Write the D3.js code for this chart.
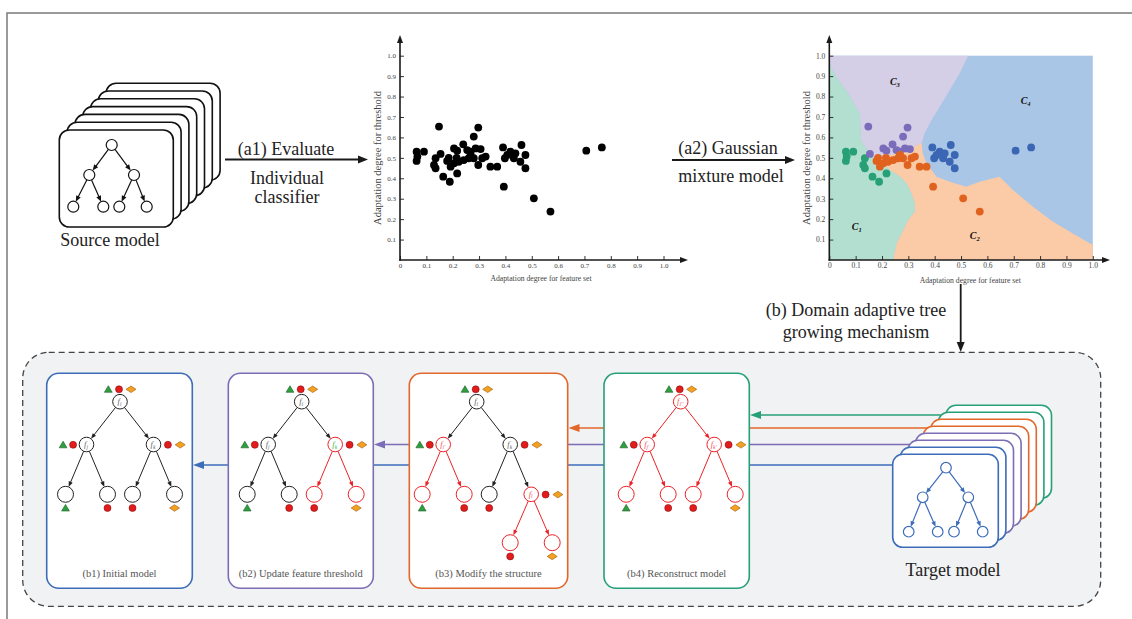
<!DOCTYPE html>
<html lang="en">
<head>
<meta charset="UTF-8">
<title>Domain adaptive tree growing</title>
<script src="https://d3js.org/d3.v7.min.js"></script>
<style>
  body { margin: 0; background: #fff; }
  svg { display: block; }
  svg text { font-family: "Liberation Serif", "Times New Roman", Times, "DejaVu Serif", serif; }
</style>
</head>
<body>
<svg id="fig" width="1132" height="619" font-family="Liberation Serif, Times New Roman, serif"></svg>
<script>
// ---- data ----
const xTicks = [0, 0.1, 0.2, 0.3, 0.4, 0.5, 0.6, 0.7, 0.8, 0.9, 1.0];
const yTicks = [0.1, 0.2, 0.3, 0.4, 0.5, 0.6, 0.7, 0.8, 0.9, 1.0];

// clusters found by the gaussian mixture (x = feature set, y = threshold)
const c1Points = [[0.063,0.53],[0.063,0.485],[0.091,0.53],[0.066,0.506],[0.129,0.465],[0.135,0.449],
  [0.135,0.498],[0.164,0.408],[0.189,0.383],[0.217,0.424]];
const c2Points = [[0.179,0.485],[0.192,0.457],[0.205,0.473],[0.223,0.481],[0.242,0.489],[0.261,0.498],
  [0.28,0.498],[0.297,0.465],[0.312,0.498],[0.325,0.506],[0.343,0.457],[0.369,0.457],[0.394,0.359],
  [0.508,0.302],[0.571,0.237],[0.268,0.514],[0.215,0.5],[0.185,0.5]];
const c3Points = [[0.148,0.653],[0.297,0.648],[0.28,0.604],[0.154,0.519],[0.205,0.546],[0.24,0.566],
  [0.217,0.535],[0.255,0.538],[0.287,0.546],[0.306,0.543],[0.268,0.53]];
const c4Points = [[0.391,0.551],[0.398,0.498],[0.419,0.53],[0.432,0.498],[0.438,0.522],[0.461,0.563],
  [0.457,0.481],[0.476,0.514],[0.476,0.449],[0.407,0.514],[0.707,0.535],[0.766,0.551]];
const clusterNames = ["1", "2", "3", "4"];
const clusterLabelPos = [[0.104,0.163],[0.552,0.119],[0.249,0.873],[0.745,0.778]];

// decision region borders
const edgeGreenLav = [[0,0.962],[0.034,0.881],[0.072,0.816],[0.104,0.742],[0.116,0.718],[0.12,0.587],
  [0.135,0.555],[0.154,0.522],[0.175,0.5]];
const edgeLavBlue = [[0.527,1],[0.495,0.914],[0.457,0.832],[0.419,0.75],[0.388,0.685],[0.362,0.62],
  [0.354,0.587],[0.35,0.575]];
const edgeLavOrange = [[0.35,0.575],[0.33,0.56],[0.3,0.54],[0.25,0.52],[0.175,0.5]];
const edgeOrangeBlue = [[0.35,0.575],[0.355,0.52],[0.369,0.473],[0.407,0.408],[0.457,0.383],[0.52,0.359],
  [0.571,0.383],[0.646,0.408],[0.697,0.343],[0.773,0.261],[0.848,0.188],[0.924,0.13],[1,0.073]];
const edgeOrangeGreen = [[0.175,0.5],[0.192,0.481],[0.23,0.44],[0.268,0.408],[0.293,0.375],[0.312,0.326],
  [0.324,0.277],[0.324,0.237],[0.299,0.196],[0.274,0.13],[0.255,0.082],[0.242,0]];

const panelTitles = ["(b1) Initial model", "(b2) Update feature threshold", "(b3) Modify the structure", "(b4) Reconstruct model"];

// ---- colours ----
const cBlue = "#3d6cb9", cPurple = "#7c6db6", cOrange = "#e2672a", cGreen = "#27a077", cRed = "#ec2227";
const dotColors = ["#26a074", "#e0621f", "#7a6cba", "#3a66b3"];
const regionColors = { green: "#b3dfd1", orange: "#fbcaa6", lav: "#d4cfe6", blue: "#aac6e6" };

const svg = d3.select("#fig");

function arrow(g, x1, y1, x2, y2, color, w, hl, hw) {
  const a = Math.atan2(y2 - y1, x2 - x1);
  const bx = x2 - hl * Math.cos(a), by = y2 - hl * Math.sin(a);
  g.append("line").attr("x1", x1).attr("y1", y1).attr("x2", bx + Math.cos(a)).attr("y2", by + Math.sin(a))
    .attr("stroke", color).attr("stroke-width", w);
  const px = -Math.sin(a) * hw / 2, py = Math.cos(a) * hw / 2;
  g.append("path").attr("d", `M${x2},${y2}L${bx + px},${by + py}L${bx - px},${by - py}Z`).attr("fill", color);
}

// outer frame
svg.append("path").attr("d", "M7,619V13H1132").attr("fill", "none").attr("stroke", "#7a7a7a").attr("stroke-width", 1.5);

// ---- scatter plots ----
function scatter(ox, xEnd, coloured) {
  const x = d3.scaleLinear().domain([0, 1]).range([ox, ox + 263.5]);
  const y = d3.scaleLinear().domain([0, 1]).range([260, 55.7]);
  const g = svg.append("g");

  if (coloured) {
    const line = d3.line().x(d => x(d[0])).y(d => y(d[1]));
    const rev = a => a.slice().reverse();
    g.append("rect").attr("x", x(0)).attr("y", y(1)).attr("width", x(1) - x(0)).attr("height", y(0) - y(1))
      .attr("fill", regionColors.blue);
    g.append("path").attr("fill", regionColors.orange)
      .attr("d", line([[0.242,0],[1,0],[1,0.073], ...rev(edgeOrangeBlue), ...edgeLavOrange, ...edgeOrangeGreen]) + "Z");
    g.append("path").attr("fill", regionColors.lav)
      .attr("d", line([[0,1], ...edgeLavBlue, ...edgeLavOrange, ...rev(edgeGreenLav)]) + "Z");
    g.append("path").attr("fill", regionColors.green)
      .attr("d", line([[0,0], ...edgeGreenLav, ...edgeOrangeGreen]) + "Z");

    clusterNames.forEach((n, i) => {
      const t = g.append("text").attr("x", x(clusterLabelPos[i][0])).attr("y", y(clusterLabelPos[i][1]) + 3)
        .attr("text-anchor", "middle").attr("font-size", 10).attr("font-weight", "bold").attr("font-style", "italic")
        .attr("fill", "#111");
      t.append("tspan").text("C");
      t.append("tspan").attr("dy", 2).attr("font-size", 6.5).text(n);
    });
  }

  const sets = [c1Points, c3Points, c4Points, c2Points];
  const setColor = [dotColors[0], dotColors[2], dotColors[3], dotColors[1]];
  sets.forEach((pts, i) => {
    g.selectAll(null).data(pts).join("circle")
      .attr("cx", d => x(d[0])).attr("cy", d => y(d[1])).attr("r", 3.9)
      .attr("fill", coloured ? setColor[i] : "#000");
  });

  const fs = coloured ? 7.5 : 7;
  const ya = g.append("g").attr("transform", `translate(${ox},0)`)
    .call(d3.axisLeft(y).tickValues(yTicks).tickSize(-4).tickPadding(4).tickFormat(d3.format(".1f")));
  const xa = g.append("g").attr("transform", "translate(0,260)")
    .call(d3.axisBottom(x).tickValues(xTicks).tickSize(-4).tickPadding(3).tickFormat(d => d === 0 ? "0" : d3.format(".1f")(d)));
  [ya, xa].forEach(a => {
    a.select(".domain").remove();
    a.attr("font-family", null).attr("font-size", null);
    a.selectAll("line").attr("stroke", "#333");
    a.selectAll("text").attr("font-size", fs).attr("fill", "#444");
  });

  arrow(g, ox, 260.7, ox, 35, "#1a1a1a", 1.6, 8, 6);
  arrow(g, ox - 0.8, 260, xEnd, 260, "#1a1a1a", 1.6, 8, 6);

  g.append("text").attr("transform", `translate(${ox - 19},158) rotate(-90)`).attr("text-anchor", "middle")
    .attr("font-size", 10.5).attr("fill", "#444").text("Adaptation degree for threshold");
  g.append("text").attr("x", ox + 141).attr("y", coloured ? 282.5 : 280.5).attr("text-anchor", "middle")
    .attr("font-size", 7.7).attr("fill", "#444").text("Adaptation degree for feature set");
}
scatter(400, 688, false);
scatter(829.3, 1110, true);

// ---- generic small tree ----
function simpleTree(g, nodes, edges, r, color, hl, hw, sw) {
  edges.forEach(([a, b]) => {
    const p = nodes[a], q = nodes[b];
    const ang = Math.atan2(q[1] - p[1], q[0] - p[0]);
    arrow(g, p[0] + r * Math.cos(ang), p[1] + r * Math.sin(ang),
      q[0] - r * Math.cos(ang), q[1] - r * Math.sin(ang), color, sw, hl, hw);
  });
  Object.values(nodes).forEach(p => {
    g.append("circle").attr("cx", p[0]).attr("cy", p[1]).attr("r", r)
      .attr("fill", "#fff").attr("stroke", color).attr("stroke-width", sw);
  });
}
const treeEdges = [["root","L"],["root","R"],["L","LL"],["L","LR"],["R","RL"],["R","RR"]];

// ---- source model stack ----
const src = svg.append("g");
for (let k = 6; k >= 0; k--) {
  src.append("rect").attr("x", 59.3 + 7.8 * k).attr("y", 130 - 7.8 * k).attr("width", 114).attr("height", 97)
    .attr("rx", 10).attr("fill", "#fff").attr("stroke", "#111").attr("stroke-width", 1.6);
}
simpleTree(src, {
  root: [111.7, 145], L: [89.3, 175], R: [134, 175],
  LL: [73.3, 206.7], LR: [103.3, 206.7], RL: [119.3, 206.7], RR: [146.7, 206.7]
}, treeEdges, 5.5, "#111", 6, 5, 1.2);
src.append("text").attr("x", 110).attr("y", 246).attr("text-anchor", "middle").attr("font-size", 18)
  .attr("fill", "#222").text("Source model");

// ---- step arrows at the top ----
const steps = svg.append("g").attr("font-size", 18).attr("fill", "#222").attr("text-anchor", "middle");
arrow(steps, 225, 159.5, 368, 159.5, "#1a1a1a", 1.8, 10, 8);
steps.append("text").attr("x", 286).attr("y", 155).text("(a1) Evaluate");
steps.append("text").attr("x", 287).attr("y", 184).text("Individual");
steps.append("text").attr("x", 287).attr("y", 203).text("classifier");
arrow(steps, 672, 160, 795, 160, "#1a1a1a", 1.8, 10, 8);
steps.append("text").attr("x", 728).attr("y", 154).text("(a2) Gaussian");
steps.append("text").attr("x", 731).attr("y", 182).text("mixture model");
arrow(steps, 960.7, 284, 960.7, 352, "#1a1a1a", 1.8, 10, 8);
steps.append("text").attr("x", 856).attr("y", 316).text("(b) Domain adaptive tree");
steps.append("text").attr("x", 856).attr("y", 338).text("growing mechanism");

// ---- dashed region ----
svg.append("rect").attr("x", 22.7).attr("y", 352.3).attr("width", 1078).attr("height", 254)
  .attr("rx", 26).attr("fill", "#f1f2f4").attr("stroke", "#444").attr("stroke-width", 1.3)
  .attr("stroke-dasharray", "6,4");

// feedback lines from the target model
const fb = svg.append("g");
arrow(fb, 960, 465, 193, 465, cBlue, 1.7, 11, 8);
arrow(fb, 960, 444.5, 374, 444.5, cPurple, 1.7, 11, 8);
arrow(fb, 960, 428, 568.5, 428, cOrange, 1.7, 11, 8);
arrow(fb, 990, 415, 750, 415, cGreen, 1.7, 11, 8);

// ---- panels ----
const panelX = [[46.7, 192.3], [228.3, 373.3], [409.3, 567.7], [604, 749.3]];
const panelColors = [cBlue, cPurple, cOrange, cGreen];
const rootX = [120, 301.7, 476.7, 680.7];

const shapeFns = {
  t: (g, x, y) => g.append("path").attr("d", `M${x},${y - 3.6}L${x + 3.9},${y + 3}L${x - 3.9},${y + 3}Z`)
    .attr("fill", "#2f9e3f").attr("stroke", "#1b5e25").attr("stroke-width", 0.6),
  c: (g, x, y) => g.append("circle").attr("cx", x).attr("cy", y).attr("r", 3.5)
    .attr("fill", "#e31b1b").attr("stroke", "#8a0f0f").attr("stroke-width", 0.6),
  d: (g, x, y) => g.append("path").attr("d", `M${x - 5},${y}L${x},${y - 3.3}L${x + 5},${y}L${x},${y + 3.3}Z`)
    .attr("fill", "#f4a020").attr("stroke", "#9a5a0a").attr("stroke-width", 0.6)
};
const markerOffsets = {
  top: { dy: -12.4, dx: [-11.7, -1, 11] },
  left: { dy: 0.3, dx: [-23.4, -13.4] },
  right: { dy: 0.3, dx: [14.4, 26.7] },
  bottom: { dy: 13.7, dx: [0] }
};

const baseMarkers = { root: ["top", "tcd"], L: ["left", "tc"], R: ["right", "cd"],
  LL: ["bottom", "t"], LR: ["bottom", "c"], RL: ["bottom", "c"], RR: ["bottom", "d"] };

const treeSpecs = [
  { red: [], redEdges: [], labels: { root: ["i", "#666"], L: ["j", "#666"], R: ["k", "#666"] }, markers: baseMarkers, edges: treeEdges },
  { red: ["R", "RL", "RR"], redEdges: ["R-RL", "R-RR"],
    labels: { root: ["i", "#666"], L: ["j", "#666"], R: ["k", "#3bb54a"] }, markers: baseMarkers, edges: treeEdges },
  { red: ["L", "LL", "LR", "RR", "RRL", "RRR"], redEdges: ["L-LL", "L-LR", "RR-RRL", "RR-RRR"],
    labels: { root: ["i", "#666"], L: ["i'", "#ee5560"], R: ["k", "#666"], RR: ["l", "#ee5560"] },
    markers: { root: ["top", "tcd"], L: ["left", "tc"], R: ["right", "cd"], RR: ["right", "cd"],
      LL: ["bottom", "t"], LR: ["bottom", "c"], RL: ["bottom", "c"], RRL: ["bottom", "c"], RRR: ["bottom", "d"] },
    edges: treeEdges.concat([["RR", "RRL"], ["RR", "RRR"]]) },
  { red: ["root", "L", "R", "LL", "LR", "RL", "RR"], redEdges: treeEdges.map(e => e.join("-")),
    labels: { root: ["i''", "#ee5560"], L: ["j'", "#ee5560"], R: ["k'", "#ee5560"] }, markers: baseMarkers, edges: treeEdges }
];

panelX.forEach(([x0, x1], i) => {
  const g = svg.append("g");
  g.append("rect").attr("x", x0).attr("y", 373.3).attr("width", x1 - x0).attr("height", 215)
    .attr("rx", 12).attr("fill", "#fff").attr("stroke", panelColors[i]).attr("stroke-width", 1.6);
  g.append("text").attr("x", (x0 + x1) / 2).attr("y", 577).attr("text-anchor", "middle")
    .attr("font-size", 10.5).attr("fill", "#555").text(panelTitles[i]);

  const rx = rootX[i], s = treeSpecs[i];
  const pos = {
    root: [rx, 401.7], L: [rx - 33.5, 444.5], R: [rx + 33.5, 444.5],
    LL: [rx - 54.5, 494.3], LR: [rx - 12.5, 494.3], RL: [rx + 12.5, 494.3], RR: [rx + 54.5, 494.3],
    RRL: [rx + 33.5, 542.7], RRR: [rx + 75.5, 542.7]
  };
  const used = new Set(s.edges.flat());
  const rad = k => (s.labels[k] ? 7.3 : 8);
  s.edges.forEach(([a, b]) => {
    const p = pos[a], q = pos[b];
    const ang = Math.atan2(q[1] - p[1], q[0] - p[0]);
    const col = s.redEdges.includes(a + "-" + b) ? cRed : "#222";
    arrow(g, p[0] + rad(a) * Math.cos(ang), p[1] + rad(a) * Math.sin(ang),
      q[0] - rad(b) * Math.cos(ang), q[1] - rad(b) * Math.sin(ang), col, 1, 5.5, 4.2);
  });
  used.forEach(k => {
    const p = pos[k];
    g.append("circle").attr("cx", p[0]).attr("cy", p[1]).attr("r", rad(k))
      .attr("fill", "#fff").attr("stroke", s.red.includes(k) ? cRed : "#222").attr("stroke-width", 1);
    if (s.labels[k]) {
      const t = g.append("text").attr("x", p[0] - 0.5).attr("y", p[1] + 2.5).attr("text-anchor", "middle")
        .attr("font-size", 8.5).attr("font-style", "italic").attr("fill", s.labels[k][1]);
      t.append("tspan").text("f");
      t.append("tspan").attr("dy", 1.6).attr("font-size", 5.5).text(s.labels[k][0]);
    }
    const m = s.markers[k];
    if (m) {
      const o = markerOffsets[m[0]];
      m[1].split("").forEach((sh, j) => shapeFns[sh](g, p[0] + o.dx[j], p[1] + o.dy));
    }
  });
});

// ---- target model stack ----
const tgt = svg.append("g");
const stackColors = [cGreen, cGreen, cOrange, cOrange, cPurple, cPurple, cBlue, cBlue];
stackColors.forEach((c, i) => {
  const k = 7 - i;
  tgt.append("rect").attr("x", 892.7 + 7.6 * k).attr("y", 454.3 - 7 * k).attr("width", 105.6).attr("height", 93)
    .attr("rx", 10).attr("fill", "#fff").attr("stroke", c).attr("stroke-width", 1.6);
});
simpleTree(tgt, {
  root: [946, 467.7], L: [922.7, 497.3], R: [968.3, 497.3],
  LL: [908.7, 531.7], LR: [937.7, 531.7], RL: [954, 531.7], RR: [982.7, 531.7]
}, treeEdges, 5.3, cBlue, 5.5, 4.5, 1.2);
tgt.append("text").attr("x", 953).attr("y", 576).attr("text-anchor", "middle").attr("font-size", 18)
  .attr("fill", "#222").text("Target model");
</script>
</body>
</html>
